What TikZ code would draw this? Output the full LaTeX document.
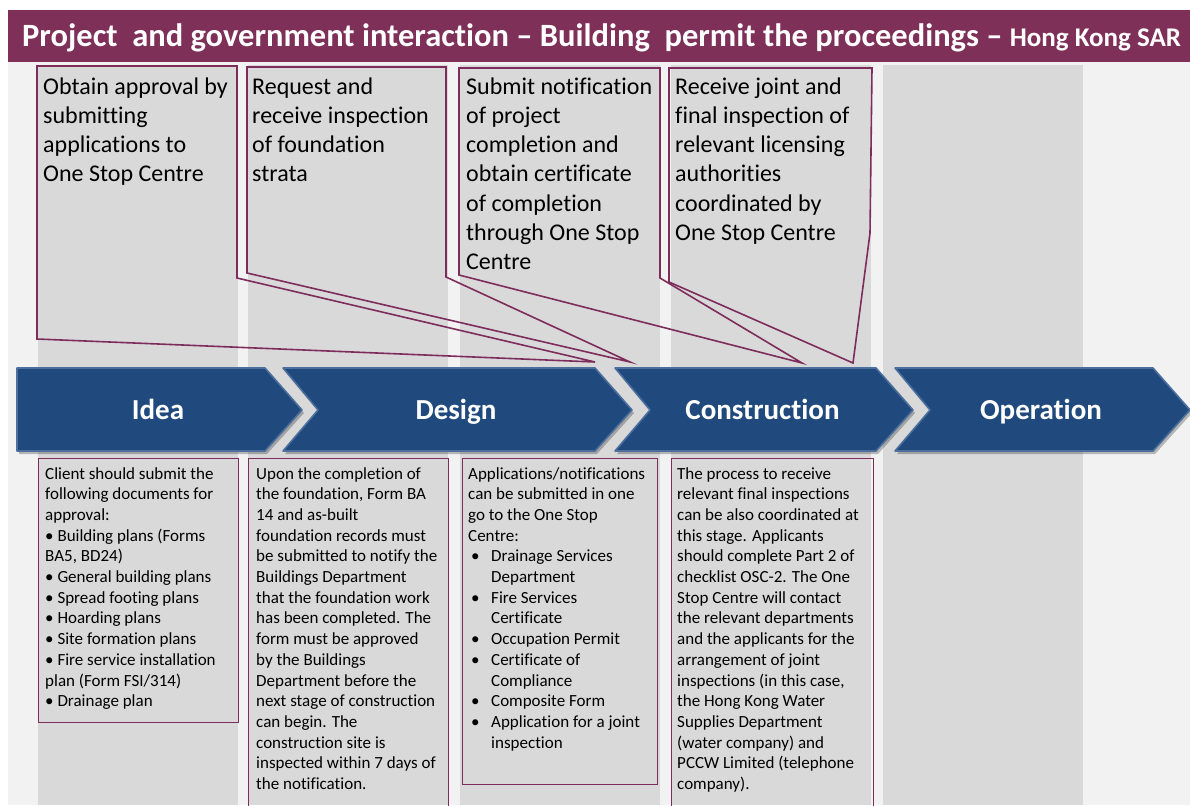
\documentclass[tikz,border=0pt]{standalone}
\usepackage{fontspec}
\setmainfont{Carlito}[Ligatures={NoCommon}]
\definecolor{barplum}{HTML}{7E3058}
\definecolor{lineplum}{HTML}{7D2C5B}
\definecolor{colgray}{HTML}{D9D9D9}
\definecolor{panelgray}{HTML}{F2F2F2}
\definecolor{stageblue}{HTML}{204A7D}
\definecolor{stageedge}{HTML}{4C6F9D}
\tikzset{
  column/.style={fill=colgray},
  callout/.style={draw=lineplum, line width=1.6pt, line join=miter},
  calltext/.style={anchor=north west, align=left, inner sep=0pt,
    font=\fontsize{24}{29.2}\selectfont},
  infobox/.style={draw=lineplum, line width=1pt},
  infotext/.style={anchor=north west, align=left, inner sep=0pt,
    font=\fontsize{17}{20.7}\selectfont},
  stage/.style={fill=stageblue, draw=stageedge, line width=1.6pt, line join=round,
    preaction={fill=black, opacity=.25, transform canvas={shift={(2,3)}}}},
  stagelabel/.style={text=white, anchor=base, font=\fontsize{29}{34}\selectfont\bfseries},
}
\begin{document}
\begin{tikzpicture}[x=1pt,y=-1pt]
  \useasboundingbox[fill=white] (0,0) rectangle (1190,805);
  \fill[panelgray] (8,62) rectangle (1190,805);
  % columns behind everything
  \foreach \xa in {38,248,460,671,883}
    \fill[column] (\xa,65) rectangle ({\xa+200},805);

  % title bar
  \fill[barplum] (8,10) rectangle (1190,62);
  \node[anchor=base west, inner sep=0pt, text=white, font=\fontsize{32.5}{38}\selectfont\bfseries]
    (title) at (22,47) {Project\ \ and government interaction -- Building\ \ permit the proceedings -- {\fontsize{27}{32}\selectfont Hong Kong SAR}};

  % stages
  \foreach \xl/\xr/\dn/\lbl [count=\i] in {17/302/0/Idea,283/632/35/Design,615/913/35/Construction,895/1190/35/Operation}{
    \draw[stage] (\xl,368) -- ({\xr-37},368) -- (\xr,410) -- ({\xr-37},451) -- (\xl,451) -- ({\xl+\dn},410) -- cycle;
    \node[stagelabel] (stage\i) at ({(\xl+\xr)/2-1.5},419) {\lbl};
  }

  % callouts
  \coordinate (tip1) at (595,362);
  \coordinate (tip2) at (630,362);
  \coordinate (tip3) at (802,363);
  \coordinate (tip4) at (853,363);
  \draw[callout] (37,66) -- (237,66) -- (237,278) -- (tip1) -- (37,339) -- cycle;
  \draw[callout] (247,67) -- (446,67) -- (446,277) -- (tip2) -- (247,273) -- cycle;
  \draw[callout] (459,68) -- (660,68) -- (660,278) -- (tip3) -- (459,275) -- cycle;
  \draw[callout] (669,68) -- (872,68) -- (870,233) -- (tip4) -- (669,282) -- cycle;

  \node[calltext] (call1) at (43,77.5) {Obtain approval by\\submitting\\applications to\\One Stop Centre};
  \node[calltext] (call2) at (252,77.5) {Request and\\receive inspection\\of foundation\\strata};
  \node[calltext] (call3) at (466,77.5) {Submit notification\\of project\\completion and\\obtain certificate\\of completion\\through One Stop\\Centre};
  \node[calltext] (call4) at (675,77.5) {Receive joint and\\final inspection of\\relevant licensing\\authorities\\coordinated by\\One Stop Centre};

  % detail boxes
  \draw[infobox] (38,458) rectangle (238,722);
  \draw[infobox] (248,458) rectangle (448,812);
  \draw[infobox] (462,458) rectangle (657,784);
  \draw[infobox] (671,458) rectangle (873,812);

  \node[infotext] (info1) at (45,467) {Client should submit the\\following documents for\\approval:\\• Building plans (Forms\\BA5, BD24)\\• General building plans\\• Spread footing plans\\• Hoarding plans\\• Site formation plans\\• Fire service installation\\plan (Form FSI/314)\\• Drainage plan};
  \node[infotext] (info2) at (256,467) {Upon the completion of\\the foundation, Form BA\\14 and as-built\\foundation records must\\be submitted to notify the\\Buildings Department\\that the foundation work\\has been completed. The\\form must be approved\\by the Buildings\\Department before the\\next stage of construction\\can begin. The\\construction site is\\inspected within 7 days of\\the notification.};
  \node[infotext] (info3) at (468,467) {Applications/notifications\\can be submitted in one\\go to the One Stop\\Centre:\\
    \makebox[23pt][l]{\,•}Drainage Services\\\hspace*{23pt}Department\\
    \makebox[23pt][l]{\,•}Fire Services\\\hspace*{23pt}Certificate\\
    \makebox[23pt][l]{\,•}Occupation Permit\\
    \makebox[23pt][l]{\,•}Certificate of\\\hspace*{23pt}Compliance\\
    \makebox[23pt][l]{\,•}Composite Form\\
    \makebox[23pt][l]{\,•}Application for a joint\\\hspace*{23pt}inspection};
  \node[infotext] (info4) at (677,467) {The process to receive\\relevant final inspections\\can be also coordinated at\\this stage. Applicants\\should complete Part 2 of\\checklist OSC-2. The One\\Stop Centre will contact\\the relevant departments\\and the applicants for the\\arrangement of joint\\inspections (in this case,\\the Hong Kong Water\\Supplies Department\\(water company) and\\PCCW Limited (telephone\\company).};
\end{tikzpicture}
\end{document}
